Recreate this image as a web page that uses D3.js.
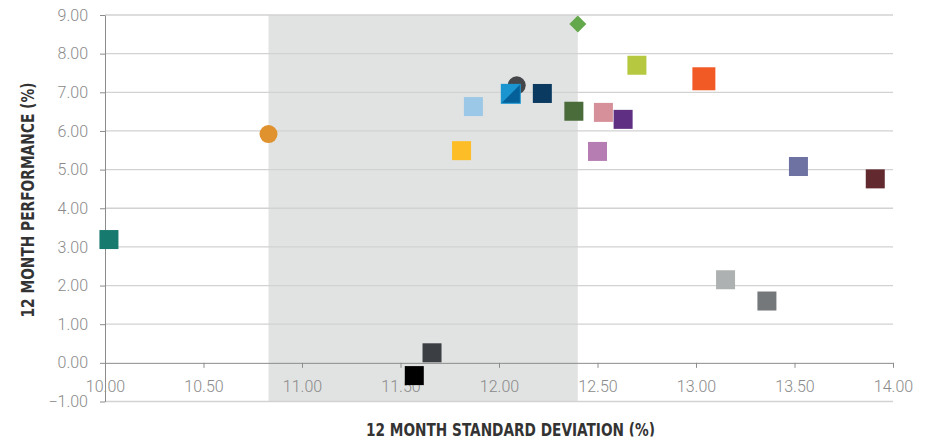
<!DOCTYPE html>
<html>
<head>
<meta charset="utf-8">
<script src="https://cdn.jsdelivr.net/npm/d3@7"></script>
<style>
  body { margin: 0; background: #fff; }
  .tick text { font-family: Roboto, "Liberation Sans Narrow", sans-serif; font-weight: 300; fill: #8a8a8a; }
  .axis-title { font-family: "Liberation Sans Narrow", "DejaVu Sans Condensed", sans-serif; font-weight: bold; fill: #333; }
</style>
</head>
<body>
<div id="chart"></div>
<script>
// 12 month std deviation (x) vs 12 month performance (y), one point per fund
const pointIds = ['p1','p2','p3','p4','p5','p6','p7','p8','p9','p10','p11','p12','p13','p14','p15','p16','p17','p18','p19','p20']
const stdDev   = [10.02, 10.83, 12.09, 12.06, 12.22, 11.87, 11.81, 12.38, 12.53, 12.63, 12.50, 12.70, 13.04, 13.52, 13.91, 13.15, 13.36, 11.66, 11.57, 12.40]
const perf     = [3.19, 5.92, 7.18, 6.96, 6.97, 6.63, 5.49, 6.51, 6.48, 6.30, 5.47, 7.70, 7.35, 5.08, 4.76, 2.15, 1.60, 0.26, -0.33, 8.77]

// shaded peer range (std dev)
const shadedRange = [10.83, 12.40]

const xTicks = [10, 10.5, 11, 11.5, 12, 12.5, 13, 13.5, 14]
const yTicks = [-1, 0, 1, 2, 3, 4, 5, 6, 7, 8, 9]

// marker styles, same order as the points
const markerColor = ['#167a6e','#e0922f','#444649','#1b95cf','#0a3a5f','#9bc8e6','#fdbd26','#4a6b3a','#d5909a','#5e2f82',
                     '#b67db3','#b5c83f','#f15a24','#6e72a2','#622a2f','#aeb1b1','#75787b','#3b3e42','#000000','#64a84c']
const markerShape = ['sq','circle','circle','split','sq','sq','sq','sq','sq','sq',
                     'sq','sq','bigsq','sq','sq','sq','sq','sq','sq','diamond']

const width = 929, height = 440
const margin = {top: 15, right: 36, bottom: 38.5, left: 105}

const svg = d3.select('#chart').append('svg')
  .attr('width', width).attr('height', height)

const x = d3.scaleLinear().domain([10, 14]).range([margin.left, width - margin.right])
const y = d3.scaleLinear().domain([-1, 9]).range([height - margin.bottom, margin.top])

// shaded band
svg.append('rect')
  .attr('x', x(shadedRange[0]))
  .attr('y', y(9))
  .attr('width', x(shadedRange[1]) - x(shadedRange[0]))
  .attr('height', y(-1) - y(9))
  .attr('fill', '#e1e3e2')

// gridlines
svg.append('g').selectAll('line')
  .data(yTicks.filter(d => d !== 0))
  .enter().append('line')
  .attr('x1', x(10)).attr('x2', x(14))
  .attr('y1', d => y(d)).attr('y2', d => y(d))
  .attr('stroke', '#d2d2d2')
  .attr('stroke-width', 1.3)

// axes
const yAxis = d3.axisLeft(y).tickValues(yTicks).tickFormat(d3.format('.2f')).tickSize(5).tickSizeOuter(0).tickPadding(12)
const gY = svg.append('g').attr('transform', `translate(${x(10)},0)`).call(yAxis)
gY.selectAll('text').attr('font-size', 16)

const xAxis = d3.axisBottom(x).tickValues(xTicks).tickFormat(d3.format('.2f')).tickSize(5).tickSizeOuter(0).tickPadding(13)
const gX = svg.append('g').attr('transform', `translate(0,${y(0)})`).call(xAxis)
gX.selectAll('text').attr('font-size', 16)

svg.selectAll('.domain, .tick line').attr('stroke', '#8c8c8c')

// markers
const pts = pointIds.map((id, i) => ({id, sd: stdDev[i], perf: perf[i], color: markerColor[i], shape: markerShape[i]}))

const sq = 19, bigSq = 23
const marks = svg.append('g')
pts.forEach(p => {
  const cx = x(p.sd), cy = y(p.perf)
  if (p.shape === 'circle') {
    marks.append('circle').attr('cx', cx).attr('cy', cy).attr('r', 9).attr('fill', p.color)
  } else if (p.shape === 'diamond') {
    marks.append('path')
      .attr('d', `M${cx},${cy - 8.5}L${cx + 8.5},${cy}L${cx},${cy + 8.5}L${cx - 8.5},${cy}Z`)
      .attr('fill', p.color)
  } else if (p.shape === 'split') {
    marks.append('rect').attr('x', cx - 10).attr('y', cy - 10).attr('width', 20).attr('height', 20).attr('fill', p.color)
    marks.append('path')
      .attr('d', `M${cx + 9},${cy - 9}L${cx + 9},${cy + 9}L${cx - 9},${cy + 9}Z`)
      .attr('fill', '#05609a')
  } else {
    const s = p.shape === 'bigsq' ? bigSq : sq
    marks.append('rect').attr('x', cx - s / 2).attr('y', cy - s / 2).attr('width', s).attr('height', s).attr('fill', p.color)
  }
})

// axis titles (condensed to the width they take in the original)
svg.append('text')
  .attr('class', 'axis-title')
  .attr('transform', `translate(34,${200}) rotate(-90)`)
  .attr('text-anchor', 'middle')
  .attr('font-size', 17)
  .attr('textLength', 235)
  .attr('lengthAdjust', 'spacingAndGlyphs')
  .text('12 MONTH PERFORMANCE (%)')

svg.append('clipPath').attr('id', 'cut')
  .append('rect').attr('x', 0).attr('y', 0).attr('width', width).attr('height', 436.5)

svg.append('text')
  .attr('class', 'axis-title')
  .attr('clip-path', 'url(#cut)')
  .attr('x', 510.5)
  .attr('y', 436)
  .attr('text-anchor', 'middle')
  .attr('font-size', 17)
  .attr('textLength', 289)
  .attr('lengthAdjust', 'spacingAndGlyphs')
  .text('12 MONTH STANDARD DEVIATION (%)')
</script>
</body>
</html>
